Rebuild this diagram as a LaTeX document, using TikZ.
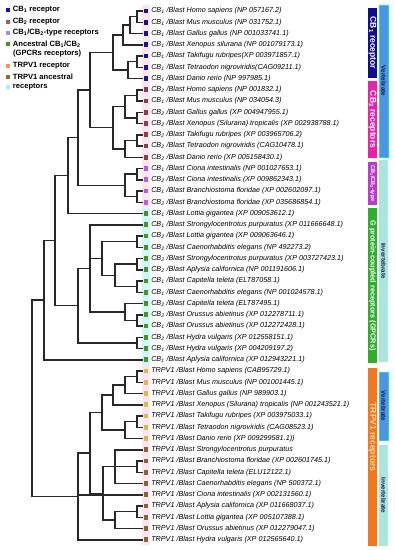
\documentclass[tikz,border=0pt]{standalone}
\usepackage{fontspec}
\setmainfont{Liberation Sans}
\usetikzlibrary{positioning}

\definecolor{treegray}{RGB}{40,40,40}
\definecolor{cbone}{RGB}{20,20,150}
\definecolor{cbtwo}{RGB}{140,60,75}
\definecolor{cbtype}{RGB}{175,95,225}
\definecolor{gpcr}{RGB}{75,145,40}
\definecolor{trpvert}{RGB}{215,190,75}
\definecolor{trpinv}{RGB}{135,100,50}
\definecolor{keytwo}{RGB}{150,95,100}
\definecolor{keytype}{RGB}{165,140,240}
\definecolor{keytrp}{RGB}{245,150,95}
\definecolor{keyanc}{RGB}{130,115,55}
\definecolor{keycyan}{RGB}{160,240,245}
\definecolor{navybar}{RGB}{15,15,140}
\definecolor{magbar}{RGB}{230,35,170}
\definecolor{purpbar}{RGB}{185,60,205}
\definecolor{greenbar}{RGB}{45,175,45}
\definecolor{orangebar}{RGB}{240,120,30}
\definecolor{orangetext}{RGB}{255,220,160}
\definecolor{vertblue}{RGB}{75,150,225}
\definecolor{vertedge}{RGB}{30,210,235}
\definecolor{invcyan}{RGB}{170,230,222}
\definecolor{bartext}{RGB}{20,25,80}
\definecolor{pinkhl}{RGB}{255,228,242}
\definecolor{cyanhl}{RGB}{205,250,245}

\newcommand{\cbo}{CB\textsubscript{1}}
\newcommand{\cbt}{CB\textsubscript{2}}

\tikzset{
  branch/.style={draw=treegray,line width=1.5pt},
  leafbox/.style={inner sep=0pt,minimum size=4.8pt},
  leaftext/.style={inner sep=0pt,anchor=west,font=\fontsize{7.2}{8}\selectfont\itshape},
  keybox/.style={inner sep=0pt,minimum size=4pt},
  keytext/.style={inner sep=0pt,anchor=west,font=\fontsize{7.6}{8}\selectfont\bfseries},
  barone/.style={rotate=-90,minimum height=9pt,inner sep=0pt,text=white,font=\fontsize{8.5}{9}\selectfont\bfseries},
  bartwo/.style={rotate=-90,minimum height=9pt,inner sep=0pt,text=bartext,font=\fontsize{6.2}{7}\selectfont\bfseries},
}

\begin{document}
\begin{tikzpicture}[x=1pt,y=-1pt]
\useasboundingbox (0,0) rectangle (395,550);

\fill[pinkhl] (142,5) rectangle (150,208);
\fill[cyanhl] (142,208) rectangle (150,365);
\fill[pinkhl] (142,365) rectangle (150,545);

% legend
\node[keybox,fill=cbone] (k1) at (7.5,10) {};
\node[keytext,right=3pt of k1] (kt1) {\cbo\ receptor};
\node[keybox,fill=keytwo] (k2) at (7.5,22) {};
\node[keytext,right=3pt of k2] (kt2) {\cbt\ receptor};
\node[keybox,fill=keytype] (k3) at (7.5,33) {};
\node[keytext,right=3pt of k3] (kt3) {\cbo/\cbt-type receptors};
\node[keybox,fill=gpcr] (k4) at (7.5,44) {};
\node[keytext,right=3pt of k4] (kt4) {Ancestral \cbo/\cbt};
\node[keytext] (kt4b) at (13,54) {(GPCRs receptors)};
\node[keybox,fill=keytrp] (k5) at (7.5,66) {};
\node[keytext,right=3pt of k5] (kt5) {TRPV1 receptor};
\node[keybox,fill=keyanc] (k6) at (7.5,77) {};
\node[keytext,right=3pt of k6] (kt6) {TRPV1 ancestral};
\node[keybox,fill=keycyan] (k7) at (7.5,87) {};
\node[keytext,right=3pt of k7] (kt7) {receptors};

% leaves
\foreach \c/\t [count=\i from 0] in {
  cbone/{\cbo\ /Blast Homo sapiens (NP 057167.2)},
  cbone/{\cbo\ /Blast Mus musculus (NP 031752.1)},
  cbone/{\cbo\ /Blast Gallus gallus (NP 001033741.1)},
  cbone/{\cbo\ /Blast Xenopus silurana (NP 001079173.1)},
  cbone/{\cbo\ /Blast Takifugu rubripes(XP 003971857.1)},
  cbone/{\cbo\ /Blast Tetraodon nigroviridis(CAG09211.1)},
  cbone/{\cbo\ /Blast Danio rerio (NP 997985.1)},
  cbtwo/{\cbt\ /Blast Homo sapiens (NP 001832.1)},
  cbtwo/{\cbo\ /Blast Mus musculus (NP 034054.3)},
  cbtwo/{\cbt\ /Blast Gallus gallus (XP 004947955.1)},
  cbtwo/{\cbt\ /Blast Xenopus (Silurana) tropicalis (XP 002938788.1)},
  cbtwo/{\cbt\ /Blast Takifugu rubripes (XP 003965706.2)},
  cbtwo/{\cbt\ /Blast Tetraodon nigroviridis (CAG10478.1)},
  cbtwo/{\cbt\ /Blast Danio rerio (XP 005158430.1)},
  cbtype/{\cbo\ /Blast Ciona intestinalis (NP 001027653.1)},
  cbtype/{\cbt\ /Blast Ciona intestinalis (XP 009862343.1)},
  cbtype/{\cbo\ /Blast Branchiostoma floridae (XP 002602097.1)},
  cbtype/{\cbt\ /Blast Branchiostoma floridae (XP 035686854.1)},
  gpcr/{\cbo\ /Blast Lottia gigantea (XP 009053612.1)},
  gpcr/{\cbo\ /Blast Strongylocentrotus purpuratus (XP 011666648.1)},
  gpcr/{\cbt\ /Blast Lottia gigantea (XP 009063646.1)},
  gpcr/{\cbt\ /Blast Caenorhabditis elegans (NP 492273.2)},
  gpcr/{\cbt\ /Blast Strongylocentrotus purpuratus (XP 003727423.1)},
  gpcr/{\cbt\ /Blast Aplysia californica (NP 001191606.1)},
  gpcr/{\cbo\ /Blast Capitella teleta (ELT87058.1)},
  gpcr/{\cbo\ /Blast Caenorhabditis elegans (NP 001024578.1)},
  gpcr/{\cbt\ /Blast Capitella teleta (ELT87495.1)},
  gpcr/{\cbt\ /Blast Orussus abietinus (XP 012278711.1)},
  gpcr/{\cbo\ /Blast Orussus abietinus (XP 012272428.1)},
  gpcr/{\cbt\ /Blast Hydra vulgaris (XP 012558151.1)},
  gpcr/{\cbo\ /Blast Hydra vulgaris (XP 004209197.2)},
  gpcr/{\cbo\ /Blast Aplysia californica (XP 012943221.1)},
  trpvert/{TRPV1 /Blast Homo sapiens (CAB95729.1)},
  trpvert/{TRPV1 /Blast Mus musculus (NP 001001445.1)},
  trpvert/{TRPV1 /Blast Gallus gallus (NP 989903.1)},
  trpvert/{TRPV1 /Blast Xenopus (Silurana) tropicalis (NP 001243521.1)},
  trpvert/{TRPV1 /Blast Takifugu rubripes (XP 003975033.1)},
  trpvert/{TRPV1 /Blast Tetraodon nigroviridis (CAG08523.1)},
  trpvert/{TRPV1 /Blast Danio rerio (XP 009299581.1))},
  trpinv/{TRPV1 /Blast Strongylocentrotus purpuratus},
  trpinv/{TRPV1 /Blast Branchiostoma floridae (XP 002601745.1)},
  trpinv/{TRPV1 /Blast Capitella teleta (ELU12122.1)},
  trpinv/{TRPV1 /Blast Caenorhabditis elegans (NP 500372.1)},
  trpinv/{TRPV1 /Blast Ciona intestinalis (XP 002131560.1)},
  trpinv/{TRPV1 /Blast Aplysia californica (XP 011668037.1)},
  trpinv/{TRPV1 /Blast Lottia gigantea (XP 005107388.1)},
  trpinv/{TRPV1 /Blast Orussus abietinus (XP 012279047.1)},
  trpinv/{TRPV1 /Blast Hydra vulgaris (XP 012565640.1)}}
{
  \node[leafbox,fill=\c] (l\i) at (146,{11+11.25*\i}) {};
  \node[leaftext,right=2.5pt of l\i] (t\i) {\t};
}

% inner nodes
\coordinate (a1) at (137,16.63);
\coordinate (a2) at (130,25.06);
\coordinate (a3) at (123,34.91);
\coordinate (a4) at (137,61.63);
\coordinate (a5) at (128,70.06);
\coordinate (a6) at (113,52.48);
\coordinate (b1) at (137,95.38);
\coordinate (b2) at (137,117.88);
\coordinate (b3) at (125,106.63);
\coordinate (b4) at (137,140.38);
\coordinate (b5) at (125,148.81);
\coordinate (b6) at (113,127.72);
\coordinate (c1) at (90,90.1);
\coordinate (d1) at (137,174.13);
\coordinate (d2) at (137,196.63);
\coordinate (d3) at (125,185.38);
\coordinate (c2) at (78,137.74);
\coordinate (c3) at (68,175.62);
\coordinate (e1) at (137,241.63);
\coordinate (e2) at (137,264.13);
\coordinate (e3) at (137,286.63);
\coordinate (e4) at (115,275.38);
\coordinate (e5) at (102,258.5);
\coordinate (e6) at (137,320.38);
\coordinate (e7) at (125,311.94);
\coordinate (e8) at (90,268.34);
\coordinate (e9) at (137,342.88);
\coordinate (e10) at (78,305.6);
\coordinate (c4) at (55,240.6);
\coordinate (c5) at (44,300.2);
\coordinate (f1) at (137,376.63);
\coordinate (f2) at (125,385.06);
\coordinate (f3) at (113,394.9);
\coordinate (f4) at (137,421.63);
\coordinate (f5) at (125,430.06);
\coordinate (f6) at (102,412.48);
\coordinate (g1) at (137,466.63);
\coordinate (g2) at (115,466.63);
\coordinate (g3) at (137,511.63);
\coordinate (g4) at (115,520.06);
\coordinate (g5) at (103,493.34);
\coordinate (f7) at (90,452.9);
\coordinate (f8) at (78,496.3);
\coordinate (root) at (32,398.3);

% CB1
\draw[branch] (a1) |- (l0) (a1) |- (l1);
\draw[branch] (a2) |- (a1) (a2) |- (l2);
\draw[branch] (a3) |- (a2) (a3) |- (l3);
\draw[branch] (a4) |- (l4) (a4) |- (l5);
\draw[branch] (a5) |- (a4) (a5) |- (l6);
\draw[branch] (a6) |- (a3) (a6) |- (a5);
% CB2
\draw[branch] (b1) |- (l7) (b1) |- (l8);
\draw[branch] (b2) |- (l9) (b2) |- (l10);
\draw[branch] (b3) |- (b1) (b3) |- (b2);
\draw[branch] (b4) |- (l11) (b4) |- (l12);
\draw[branch] (b5) |- (b4) (b5) |- (l13);
\draw[branch] (b6) |- (b3) (b6) |- (b5);
\draw[branch] (c1) |- (a6) (c1) |- (b6);
% CB1/CB2-type
\draw[branch] (d1) |- (l14) (d1) |- (l15);
\draw[branch] (d2) |- (l16) (d2) |- (l17);
\draw[branch] (d3) |- (d1) (d3) |- (d2);
\draw[branch] (c2) |- (c1) (c2) |- (d3);
\draw[branch] (c3) |- (c2) (c3) |- (l18);
% GPCR
\draw[branch] (e1) |- (l20) (e1) |- (l21);
\draw[branch] (e2) |- (l22) (e2) |- (l23);
\draw[branch] (e3) |- (l24) (e3) |- (l25);
\draw[branch] (e4) |- (e2) (e4) |- (e3);
\draw[branch] (e5) |- (e1) (e5) |- (e4);
\draw[branch] (e6) |- (l27) (e6) |- (l28);
\draw[branch] (e7) |- (l26) (e7) |- (e6);
\draw[branch] (e8) |- (l19) (e8) |- (e5) (e8) |- (e7);
\draw[branch] (e9) |- (l29) (e9) |- (l30);
\draw[branch] (e10) |- (e8) (e10) |- (e9);
\draw[branch] (c4) |- (c3) (c4) |- (e10);
\draw[branch] (c5) |- (c4) (c5) |- (l31);
% TRPV1
\draw[branch] (f1) |- (l32) (f1) |- (l33);
\draw[branch] (f2) |- (f1) (f2) |- (l34);
\draw[branch] (f3) |- (f2) (f3) |- (l35);
\draw[branch] (f4) |- (l36) (f4) |- (l37);
\draw[branch] (f5) |- (f4) (f5) |- (l38);
\draw[branch] (f6) |- (f3) (f6) |- (f5);
\draw[branch] (g1) |- (l40) (g1) |- (l41);
\draw[branch] (g2) |- (l39) (g2) |- (g1) (g2) |- (l42);
\draw[branch] (g3) |- (l44) (g3) |- (l45);
\draw[branch] (g4) |- (g3) (g4) |- (l46);
\draw[branch] (g5) |- (g2) (g5) |- (g4);
\draw[branch] (f7) |- (f6) (f7) |- (g5);
\draw[branch] (f8) |- (f7) (f8) |- (l43) (f8) |- (l47);
\draw[branch] (root) |- (c5) (root) |- (f8);

% side bars
\node[barone,fill=navybar,minimum width=70pt] (bar1) at (372.5,43) {\cbo\ receptor};
\node[barone,fill=magbar,minimum width=77pt] (bar2) at (372.5,119.5) {\cbt\ receptors};
\node[barone,fill=purpbar,minimum width=43pt,font=\fontsize{5.5}{6}\selectfont\bfseries] (bar3) at (372.5,183.5) {\cbo/\cbt-type};
\node[barone,fill=greenbar,minimum width=155pt,font=\fontsize{7.3}{8}\selectfont\bfseries] (bar4) at (372.5,285.5) {G protein-coupled receptors (GPCRs)};
\node[barone,fill=orangebar,minimum width=178pt] (bar5) at (372.5,457) {};
\node[rotate=-90,inner sep=0pt,text=orangetext,font=\fontsize{8.5}{9}\selectfont\bfseries] (bar5t) at (372.5,437) {TRPV1 receptors};
\node[bartwo,fill=vertblue,draw=vertedge,minimum width=152pt] (v1) at (383.5,81) {Vertebrate};
\node[bartwo,fill=invcyan,minimum width=202pt] (v2) at (383.5,261) {Invertebrate};
\node[bartwo,fill=vertblue,draw=vertedge,minimum width=68pt] (v3) at (383.5,406) {Vertebrate};
\node[bartwo,fill=invcyan,minimum width=101pt] (v4) at (383.5,495.5) {Invertebrate};
\end{tikzpicture}
\end{document}
